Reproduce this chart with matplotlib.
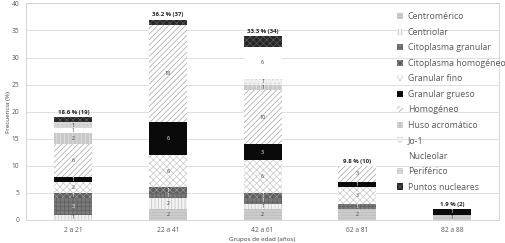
import matplotlib
matplotlib.use("Agg")
import matplotlib.pyplot as plt
import numpy as np

plt.rcParams["font.family"] = ["Open Sans", "DejaVu Sans"]
plt.rcParams["hatch.linewidth"] = 0.5

groups = ["2 a 21", "22 a 41", "42 a 61", "62 a 81", "82 a 88"]
patterns = ["Centromérico", "Centriolar", "Citoplasma granular",
            "Citoplasma homogéneo", "Granular fino", "Granular grueso",
            "Homogéneo", "Huso acromático", "Jo-1", "Nucleolar",
            "Periférico", "Puntos nucleares"]

# counts per pattern, one value per age group
centromerico = [0, 2, 2, 2, 1]
centriolar = [1, 2, 1, 0, 0]
cit_granular = [3, 1, 1, 1, 0]
cit_homogeneo = [1, 1, 1, 0, 0]
granular_fino = [2, 6, 6, 3, 0]
granular_grueso = [1, 6, 3, 1, 1]
homogeneo = [6, 18, 10, 3, 0]
huso = [2, 0, 1, 0, 0]
jo1 = [0, 0, 1, 0, 0]
nucleolar = [1, 0, 6, 0, 0]
periferico = [1, 0, 0, 0, 0]
puntos = [1, 1, 2, 0, 0]

totals = [19, 37, 34, 10, 2]
percents = [18.6, 36.2, 33.3, 9.8, 1.9]

series = [centromerico, centriolar, cit_granular, cit_homogeneo,
          granular_fino, granular_grueso, homogeneo, huso, jo1,
          nucleolar, periferico, puntos]

# (facecolor, hatch, hatch colour, label colour)
styles = [
    ("#cccccc", "------", "#bdbdbd", "#404040"),
    ("#f2f2f2", "|||||", "#c4c4c4", "#404040"),
    ("#7a7a7a", "++++", "#5e5e5e", "#ffffff"),
    ("#5e5e5e", "xxxxx", "#999999", "#ffffff"),
    ("#ffffff", "xxxxx", "#c8c8c8", "#404040"),
    ("#0a0a0a", "", "#0a0a0a", "#ffffff"),
    ("#ffffff", "//////", "#a6a6a6", "#404040"),
    ("#c8c8c8", "||||", "#e6e6e6", "#404040"),
    ("#f0f0f0", "....", "#d4d4d4", "#404040"),
    ("#ffffff", "", "#ffffff", "#404040"),
    ("#d6d6d6", "....", "#c0c0c0", "#404040"),
    ("#262626", "xxxxx", "#5a5a5a", "#333333"),
]

fig = plt.figure(figsize=(5.05, 2.43), dpi=100)
ax = fig.add_axes([0.0515, 0.095, 0.937, 0.891])

x = np.arange(len(groups))
bottom = np.zeros(len(groups))
handles = []
for name, vals, (fc, hatch, hc, tc) in zip(patterns, series, styles):
    vals = np.array(vals, dtype=float)
    bars = ax.bar(x, vals, 0.4, bottom=bottom, color=fc, hatch=hatch,
                  edgecolor=hc, linewidth=0, label=name, zorder=2)
    handles.append(bars)
    for xi, v, b in zip(x, vals, bottom):
        if v > 0:
            ax.text(xi, b + v / 2, f"{int(v)}", ha="center", va="center",
                    fontsize=3.9, color=tc, zorder=3)
    bottom += vals

for xi, t, p in zip(x, totals, percents):
    ax.text(xi, t + 0.4, f"{p} % ({t})", ha="center", va="bottom",
            fontsize=4.3, fontweight="bold", color="#222222")

ax.set_xlim(-0.5, len(groups) - 0.5)
ax.set_ylim(0, 40)
ax.set_yticks(range(0, 41, 5))
ax.set_xticks(x)
ax.set_xticklabels(groups)
ax.tick_params(axis="both", labelsize=4.8, colors="#595959", length=0)
ax.tick_params(axis="y", pad=5)
ax.tick_params(axis="x", pad=5)
ax.grid(axis="y", color="#d9d9d9", linewidth=0.6, zorder=0)
for s in ax.spines.values():
    s.set_color("#d0d0d0")
    s.set_linewidth(0.6)

ax.set_ylabel("Frecuencia (%)", fontsize=4.5, color="#404040")
ax.yaxis.set_label_coords(-0.032, 0.5)
ax.set_xlabel("Grupos de edad (años)", fontsize=4.5, color="#404040",
              labelpad=2)

leg = ax.legend(handles=handles, loc="upper left",
                bbox_to_anchor=(0.777, 0.975), frameon=False, fontsize=6.3,
                labelspacing=0.74, handlelength=0.7, handleheight=0.7,
                handletextpad=0.5, borderaxespad=0)
for t in leg.get_texts():
    t.set_color("#595959")

fig.savefig("out.png", dpi=100)
